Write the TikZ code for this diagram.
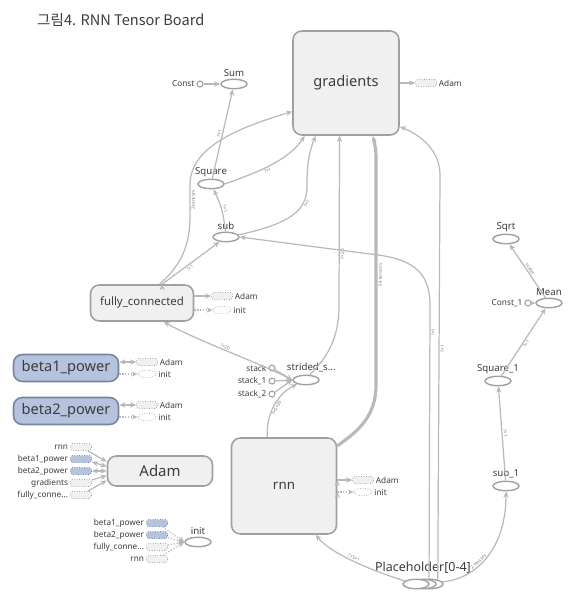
\documentclass[tikz,border=0pt]{standalone}
\usepackage{fontspec}
\setmainfont{Noto Sans}
\newfontfamily\krfont{Noto Sans CJK KR}
\usepackage{xcolor}
\usepackage{tikz}
\usetikzlibrary{positioning,shapes.geometric,arrows.meta}

\definecolor{edgegray}{RGB}{185,185,185}
\definecolor{boxline}{RGB}{160,160,160}
\definecolor{boxfill}{RGB}{240,240,240}
\definecolor{varfill}{RGB}{181,195,222}
\definecolor{varline}{RGB}{118,132,160}
\definecolor{txt}{RGB}{60,60,60}

\begin{document}
\begin{tikzpicture}
      [ x=0.02cm, y=-0.02cm, text=txt,
        >={Stealth[length=3.5pt,width=3pt]},
        meta/.style={rectangle, rounded corners=5pt, draw=boxline,
          fill=boxfill, line width=0.9pt, inner sep=0pt},
        var/.style={meta, draw=varline, fill=varfill},
        op/.style={ellipse, draw=boxline, fill=white, line width=0.8pt,
          inner sep=0pt, minimum width=0.52cm, minimum height=0.19cm},
        cst/.style={circle, draw=boxline, fill=white, line width=0.6pt,
          inner sep=0pt, minimum size=0.12cm},
        auxbox/.style={rectangle, rounded corners=1pt, draw=boxline,
          densely dotted, fill=boxfill, inner sep=0pt,
          minimum width=0.42cm, minimum height=0.14cm},
        auxvar/.style={auxbox, draw=varline, fill=varfill},
        auxinit/.style={ellipse, draw=boxline, densely dotted, inner sep=0pt,
          minimum width=0.36cm, minimum height=0.15cm},
        every label/.style={inner sep=1pt, font=\fontsize{5.5}{6}\selectfont},
        small/.style={font=\fontsize{4.7}{5}\selectfont, inner sep=1pt},
        flow/.style={draw=edgegray, line width=0.7pt, ->},
        ctrl/.style={flow, densely dotted},
        elab/.style={font=\fontsize{2.6}{3}\selectfont, sloped,
          inner sep=0.6pt, text=txt!70}
      ]
      \useasboundingbox (0,0) rectangle (574,597);
      \node[anchor=west, font=\krfont\fontsize{8.3}{10}\selectfont]
        (title) at (31,20) {그림4. RNN Tensor Board};

      % main boxes
      \node[meta, minimum width=2.12cm, minimum height=2.08cm,
            font=\fontsize{8.3}{10}\selectfont] (grad) at (346,83) {gradients};
      \node[meta, minimum width=2.06cm, minimum height=0.72cm,
            font=\fontsize{6.5}{8}\selectfont] (fc) at (142,303) {fully\_connected};
      \node[var, minimum width=2.1cm, minimum height=0.54cm,
            font=\fontsize{8.3}{10}\selectfont] (beta1) at (66,368) {beta1\_power};
      \node[var, minimum width=2.1cm, minimum height=0.54cm,
            font=\fontsize{8.3}{10}\selectfont] (beta2) at (66,411) {beta2\_power};
      \node[meta, minimum width=2.1cm, minimum height=0.6cm,
            font=\fontsize{8.5}{10}\selectfont] (adam) at (160,471) {Adam};
      \node[meta, minimum width=2.1cm, minimum height=1.92cm,
            font=\fontsize{7.6}{9}\selectfont] (rnn) at (284,486) {rnn};

      % ops
      \node[op, label=above:Sum]       (sumop)   at (234,84)  {};
      \node[cst, label={[small]left:Const}] (constop) at (200,84) {};
      \node[op, label=above:Square]    (square)  at (211,184) {};
      \node[op, label=above:sub]       (subop)   at (226,237) {};
      \node[op, label={[xshift=3pt]above:strided\_s...}] (strided) at (306,380) {};
      \node[cst, label={[small]left:stack}]    (stack)  at (272,368) {};
      \node[cst, label={[small]left:stack\_1}] (stack1) [below=0.12cm of stack]  {};
      \node[cst, label={[small]left:stack\_2}] (stack2) [below=0.12cm of stack1] {};
      \node[op, label=above:init]      (initop)  at (198,542) {};
      \node[op, label=above:Sqrt]      (sqrtop)  at (506,239) {};
      \node[op, label=above:Mean]      (mean)    at (549,303) {};
      \node[cst, label={[small]left:Const\_1}] (constB) at (528,303) {};
      \node[op, label=above:Square\_1] (squareB) at (498,381) {};
      \node[op, label=above:sub\_1]    (subB)    at (506,486) {};
      \node[op] (phc) at (430,584) {};
      \node[op] (phb) at (423,584) {};
      \node[op] (pha) at (416,584) {};
      \node[font=\fontsize{7.1}{8}\selectfont, inner sep=0pt]
        (phlab) [above=0.1cm of phb] {Placeholder[0-4]};

      % auxiliary nodes
      \node[auxbox, label={[small]right:Adam}]  (gradA) at (426,83)  {};
      \node[auxbox, label={[small]right:Adam}]  (fcA)   at (222,296) {};
      \node[auxinit, label={[small]right:init}] (fcI)   at (222,310) {};
      \node[auxbox, label={[small]right:Adam}]  (b1A)   at (147,362) {};
      \node[auxinit, label={[small]right:init}] (b1I)   at (147,374) {};
      \node[auxbox, label={[small]right:Adam}]  (b2A)   at (147,405) {};
      \node[auxinit, label={[small]right:init}] (b2I)   at (147,417) {};
      \node[auxbox, label={[small]right:Adam}]  (rnnA)  at (363,480) {};
      \node[auxinit, label={[small]right:init}] (rnnI)  at (363,492) {};

      \node[auxbox, label={[small]left:rnn}]             (inRnn)  at (81,447) {};
      \node[auxvar, label={[small]left:beta1\_power}]    (inB1)   at (81,459) {};
      \node[auxvar, label={[small]left:beta2\_power}]    (inB2)   at (81,471) {};
      \node[auxbox, label={[small]left:gradients}]       (inGrad) at (81,483) {};
      \node[auxbox, label={[small]left:fully\_conne...}] (inFc)   at (81,495) {};

      \node[auxvar, label={[small]left:beta1\_power}]    (ini1) at (157,523) {};
      \node[auxvar, label={[small]left:beta2\_power}]    (ini2) at (157,535) {};
      \node[auxbox, label={[small]left:fully\_conne...}] (ini3) at (157,547) {};
      \node[auxbox, label={[small]left:rnn}]             (ini4) at (157,559) {};

      % data flow
      \path[flow] (constop) edge (sumop)
                  (square)  edge node[elab,above] {?×1} (sumop)
                  (square)  edge [<-, bend left=10] node[elab,above] {?×1} (subop)
                  (fc.43)   edge node[elab,below,pos=0.45] {?×1} (subop)
                  (stack)   edge (strided.west)
                  (stack1)  edge (strided.west)
                  (stack2)  edge (strided.west)
                  (squareB) edge [<-] node[elab,above] {?×1} (subB)
                  (squareB) edge node[elab,below] {?×1} (mean)
                  (constB)  edge (mean)
                  (sqrtop)  edge [<-] node[elab,above] {scalar} (mean);

      \draw[flow] (fc.47) .. controls (185,262) and (190,240) .. (190,215)
          -- node[elab,below] {2 tensors} (190,185)
          .. controls (190,150) and (230,130) .. (grad.208);
      \draw[flow] (subop.10) .. controls (300,222) and (307,205)
          .. node[elab,below,pos=0.7] {?×1} (307,185)
          .. controls (307,160) and (310,150) .. (grad.240);
      \draw[flow] (square.east) .. controls (265,170) and (290,158)
          .. node[elab,below,pos=0.4] {?×1} (grad.232);
      \draw[flow,<-] (fc.-41) .. controls (200,342) and (265,365)
          .. node[elab,above,pos=0.45] {?×20} (strided.west);
      \draw[flow] (rnn.109) .. controls (266,405) and (285,390)
          .. node[elab,below,pos=0.4] {?×5×20} (strided.205);
      \draw[flow] (strided.55) .. controls (330,355) and (339,335) .. (339,305)
          -- node[elab,below,pos=0.3] {?×20} (grad.263);
      \draw[flow, line width=1.8pt] (rnn.37) .. controls (360,430) and (376,415) .. (376,385)
          -- node[elab,below] {54 tensors} (376,165)
          .. controls (376,150) .. (grad.297);
      \draw[flow] (phc.100) -- node[elab,below,pos=0.9] {?×1} (430,305)
          .. controls (430,270) and (410,258) .. (370,254) -- (subop.east);
      \draw[flow] (phc.30) -- node[elab,below,pos=0.57] {?×1} (440,175)
          .. controls (440,150) and (420,135) .. (grad.321);
      \draw[flow,<-] (rnn.-57) .. controls (330,553) and (370,570)
          .. node[elab,above] {?×5×1} (pha.165);
      \draw[flow] (phc.10) .. controls (470,580) and (506,555)
          .. node[elab,above,pos=0.45] {2 tensors} (subB.south);

      % control edges
      \path[flow] (grad.east) edge (gradA)
                  (fc.east |- fcA) edge (fcA)
                  (beta1.east |- b1A) edge [<->] (b1A)
                  (beta2.east |- b2A) edge [<->] (b2A)
                  (rnn.east |- rnnA) edge (rnnA)
                  (inRnn)  edge (adam.170)
                  (inB1)   edge [<->] (adam.175)
                  (inB2)   edge [<->] (adam.180)
                  (inGrad) edge (adam.185)
                  (inFc)   edge (adam.190);
      \path[ctrl] (fc.east |- fcI) edge (fcI)
                  (beta1.east |- b1I) edge (b1I)
                  (beta2.east |- b2I) edge (b2I)
                  (rnn.east |- rnnI) edge (rnnI)
                  (ini1) edge (initop.west)
                  (ini2) edge (initop.west)
                  (ini3) edge (initop.west)
                  (ini4) edge (initop.west);
\end{tikzpicture}
\end{document}
